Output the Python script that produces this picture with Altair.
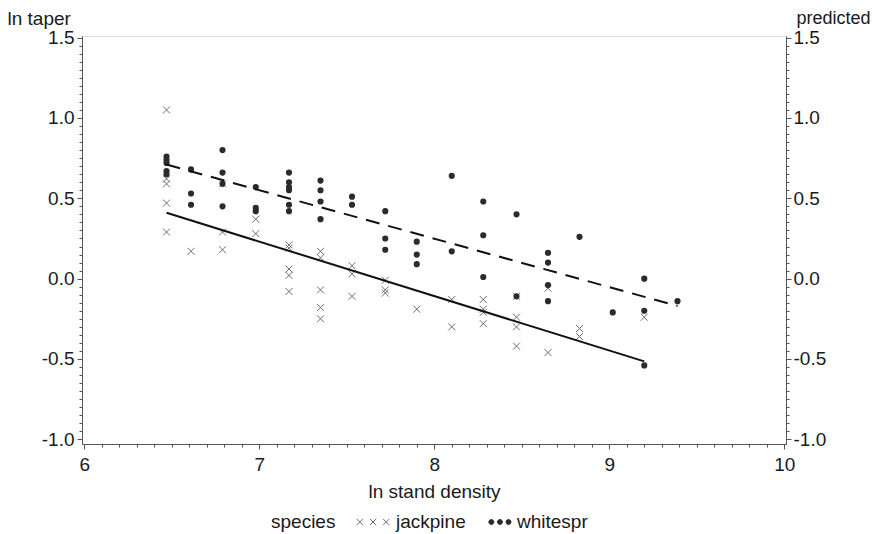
import altair as alt
import pandas as pd

# ---- data ----
jack_x = [6.47, 6.47, 6.47, 6.47, 6.47,
          6.61,
          6.79, 6.79, 6.79,
          6.98, 6.98,
          7.17, 7.17, 7.17, 7.17, 7.17,
          7.35, 7.35, 7.35, 7.35, 7.35,
          7.53, 7.53, 7.53,
          7.72, 7.72, 7.72,
          7.90,
          8.10, 8.10,
          8.28, 8.28, 8.28, 8.28,
          8.47, 8.47, 8.47, 8.47,
          8.65, 8.65,
          8.83, 8.83,
          9.20]
jack_y = [1.05, 0.62, 0.59, 0.47, 0.29,
          0.17,
          0.59, 0.29, 0.18,
          0.37, 0.28,
          0.21, 0.19, 0.06, 0.02, -0.08,
          0.17, 0.13, -0.07, -0.18, -0.25,
          0.08, 0.03, -0.11,
          -0.01, -0.07, -0.09,
          -0.19,
          -0.13, -0.30,
          -0.13, -0.19, -0.21, -0.28,
          -0.11, -0.24, -0.30, -0.42,
          -0.06, -0.46,
          -0.31, -0.36,
          -0.24]

white_x = [6.47, 6.47, 6.47, 6.47, 6.47,
           6.61, 6.61, 6.61,
           6.79, 6.79, 6.79, 6.79,
           6.98, 6.98, 6.98,
           7.17, 7.17, 7.17, 7.17, 7.17, 7.17,
           7.35, 7.35, 7.35, 7.35,
           7.53, 7.53,
           7.72, 7.72, 7.72,
           7.90, 7.90, 7.90,
           8.10, 8.10,
           8.28, 8.28, 8.28,
           8.47, 8.47,
           8.65, 8.65, 8.65, 8.65,
           8.83,
           9.02,
           9.20, 9.20, 9.20,
           9.39]
white_y = [0.76, 0.74, 0.72, 0.67, 0.65,
           0.68, 0.53, 0.46,
           0.80, 0.66, 0.59, 0.45,
           0.57, 0.44, 0.42,
           0.66, 0.60, 0.57, 0.55, 0.46, 0.42,
           0.61, 0.55, 0.48, 0.37,
           0.51, 0.46,
           0.42, 0.25, 0.18,
           0.23, 0.15, 0.09,
           0.64, 0.17,
           0.48, 0.27, 0.01,
           0.40, -0.11,
           0.16, 0.10, -0.04, -0.14,
           0.26,
           -0.21,
           0.00, -0.20, -0.54,
           -0.14]

pred_jack_x = [6.47, 9.20]
pred_jack_y = [0.41, -0.515]
pred_white_x = [6.47, 9.39]
pred_white_y = [0.71, -0.17]

species = ["jackpine", "whitespr"]

x_major_ticks = [6, 7, 8, 9, 10]
x_minor_ticks = [round(6 + 0.1 * i, 2) for i in range(41)]
y_major_ticks = [-1.0, -0.5, 0.0, 0.5, 1.0, 1.5]
y_minor_ticks = [round(-1 + 0.05 * i, 3) for i in range(51)]

# ---- styling ----
FONT = "Liberation Sans"
FS = 19
TXT = "#1a1a1a"
AX = "#555555"
GRAY = "#6e6e6e"
DARK = "#2b2b2b"

XPATH = "M-1,-1L1,1M-1,1L1,-1"


def triple_x():
    parts = []
    h = 0.19
    for c in (-0.8, 0.0, 0.8):
        parts.append(f"M{c-h:.2f},{-h:.2f}L{c+h:.2f},{h:.2f}M{c-h:.2f},{h:.2f}L{c+h:.2f},{-h:.2f}")
    return "".join(parts)


def triple_dot():
    parts = []
    r = 0.15
    for c in (-0.16, 0.36, 0.88):
        parts.append(f"M{c-r:.2f},0A{r},{r} 0 1,1 {c+r:.2f},0A{r},{r} 0 1,1 {c-r:.2f},0Z")
    return "".join(parts)


df_jack = pd.DataFrame({"x": jack_x, "y": jack_y})
df_white = pd.DataFrame({"x": white_x, "y": white_y})
df_pj = pd.DataFrame({"x": pred_jack_x, "y": pred_jack_y})
df_pw = pd.DataFrame({"x": pred_white_x, "y": pred_white_y})
df_sp = pd.DataFrame({"species": species})

x_scale = alt.Scale(domain=[5.987, 10.010], nice=False, zero=False)
y_scale = alt.Scale(domain=[-1.029, 1.510], nice=False, zero=False)

y_label = "(datum.value < 0 ? '-' : '') + format(abs(datum.value), '.1f')"

common = dict(grid=False, domainColor=AX, tickColor=AX, labelOverlap=False,
              labelFlush=False, labelBound=False, labelFont=FONT,
              labelFontSize=FS, labelColor=TXT, titleFont=FONT,
              titleFontWeight="normal", titleColor=TXT)

x_axis = alt.Axis(
    orient="bottom", values=x_major_ticks, format="d", tickSize=5, labelPadding=6,
    title="ln stand density", titleFontSize=FS,
    titleBaseline="alphabetic", titleY=53, **common,
)
y_axis_left = alt.Axis(
    orient="left", values=y_major_ticks, labelExpr=y_label, tickSize=5, labelPadding=3,
    title="ln taper", titleFontSize=FS, titleAngle=0, titleAlign="left",
    titleBaseline="middle", titleX=-75, titleY=-18, **common,
)
y_axis_right = alt.Axis(
    orient="right", values=y_major_ticks, labelExpr=y_label, tickSize=5, labelPadding=2,
    title="predicted", titleFontSize=18, titleAngle=0, titleAlign="left",
    titleBaseline="middle", titleX=10, titleY=-18, **common,
)

minor_common = dict(grid=False, labels=False, domain=False, tickSize=3,
                    tickColor=AX, title=None)
x_axis_minor = alt.Axis(orient="bottom", values=x_minor_ticks, **minor_common)
y_axis_minor_left = alt.Axis(orient="left", values=y_minor_ticks, **minor_common)
y_axis_minor_right = alt.Axis(orient="right", values=y_minor_ticks, **minor_common)

jack = alt.Chart(df_jack).mark_point(
    shape=XPATH, size=49, filled=False, stroke=GRAY, strokeWidth=1, opacity=1
).encode(
    x=alt.X("x:Q", scale=x_scale, axis=x_axis),
    y=alt.Y("y:Q", scale=y_scale, axis=y_axis_left),
)

white = alt.Chart(df_white).mark_point(
    shape="circle", size=38, filled=True, fill=DARK, opacity=1
).encode(
    x=alt.X("x:Q", scale=x_scale, axis=x_axis),
    y=alt.Y("y:Q", scale=y_scale, axis=y_axis_left),
)

legend = alt.Legend(
    orient="none", legendX=189, legendY=469, direction="horizontal",
    title="species", titleOrient="left", titleFont=FONT, titleFontSize=FS,
    titleFontWeight="normal", titleColor=TXT, titlePadding=20,
    titleBaseline="line-top", titleLineHeight=6, titleAnchor="middle",
    labelFont=FONT, labelFontSize=FS, labelColor=TXT, labelOffset=6,
    symbolSize=1089, symbolStrokeWidth=1, columnPadding=11,
)

legend_layer = alt.Chart(df_sp).transform_filter("false").mark_point(
    filled=True, strokeWidth=1, opacity=1
).encode(
    fill=alt.Fill("species:N", scale=alt.Scale(domain=species, range=[GRAY, DARK]), legend=legend),
    stroke=alt.Stroke("species:N", scale=alt.Scale(domain=species, range=[GRAY, DARK]), legend=legend),
    shape=alt.Shape("species:N", scale=alt.Scale(domain=species, range=[triple_x(), triple_dot()]), legend=legend),
)

line_j = alt.Chart(df_pj).mark_line(color="#111111", strokeWidth=2).encode(
    x=alt.X("x:Q", scale=x_scale, axis=None),
    y=alt.Y("y:Q", scale=y_scale, axis=y_axis_right),
)
line_w = alt.Chart(df_pw).mark_line(color="#111111", strokeWidth=2, strokeDash=[14, 9]).encode(
    x=alt.X("x:Q", scale=x_scale, axis=None),
    y=alt.Y("y:Q", scale=y_scale, axis=y_axis_right),
)

minor_lb = alt.Chart(df_jack).transform_filter("false").mark_point(opacity=0).encode(
    x=alt.X("x:Q", scale=x_scale, axis=x_axis_minor),
    y=alt.Y("y:Q", scale=y_scale, axis=y_axis_minor_left),
)
minor_r = alt.Chart(df_jack).transform_filter("false").mark_point(opacity=0).encode(
    x=alt.X("x:Q", scale=x_scale, axis=None),
    y=alt.Y("y:Q", scale=y_scale, axis=y_axis_minor_right),
)

points = alt.layer(jack, white, legend_layer)
lines = alt.layer(line_j, line_w)

chart = alt.layer(points, lines, minor_lb, minor_r).resolve_scale(
    x="independent", y="independent"
).properties(
    width=704, height=408,
    autosize=alt.AutoSizeParams(type="none"),
    padding={"left": 74, "top": 28, "right": 84, "bottom": 90},
).configure_view(stroke=AX, strokeWidth=1).configure(background="white")

chart.save("out.html", embed_options={"renderer": "svg", "actions": False})
